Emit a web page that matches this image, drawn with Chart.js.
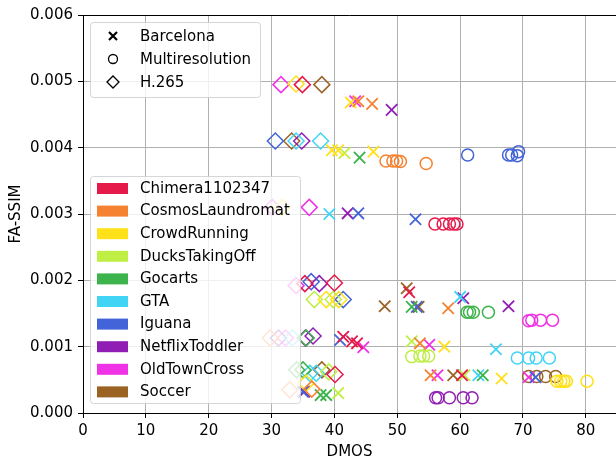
<!DOCTYPE html>
<html><head><meta charset="utf-8">
<script src="https://cdn.jsdelivr.net/npm/chart.js@4"></script>
<style>html,body{margin:0;padding:0;background:#fff}canvas{display:block}</style>
</head><body>
<canvas id="c" width="616" height="460"></canvas>
<script>
const sequences = ['Chimera1102347','CosmosLaundromat','CrowdRunning','DucksTakingOff','Gocarts','GTA','Iguana','NetflixToddler','OldTownCross','Soccer'];
const seqColors = ['#e6194b','#f58231','#ffe119','#bfef45','#3cb44b','#42d4f4','#4363d8','#911eb4','#f032e6','#9a6324'];
const codecs = ['Barcelona','Multiresolution','H.265'];
const xTicks = [0,10,20,30,40,50,60,70,80];
const yTicks = [0,0.001,0.002,0.003,0.004,0.005,0.006];
const xLabel = 'DMOS';
const yLabel = 'FA-SSIM';

// [DMOS, FA-SSIM] per sequence
const barcelona = [
  [[51.9,0.00182],[41.4,0.00115],[42.8,0.00108],[43.6,0.00105],[60.3,0.00057]],
  [[43.8,0.00470],[46.0,0.00466],[58.1,0.00158],[53.6,0.00105],[55.3,0.00057]],
  [[42.6,0.00468],[39.6,0.00396],[40.6,0.00396],[46.2,0.00394],[57.5,0.00100],[66.6,0.00052]],
  [[41.6,0.00392],[52.3,0.00108],[60.7,0.00057],[40.6,0.00030]],
  [[44.0,0.00385],[52.3,0.00160],[63.6,0.00057],[37.8,0.00027],[38.7,0.00027]],
  [[39.2,0.00300],[60.0,0.00175],[65.7,0.00096],[62.9,0.00057]],
  [[43.8,0.00301],[52.9,0.00292],[53.1,0.00160],[40.9,0.00110],[72.0,0.00054],[35.0,0.00032]],
  [[49.1,0.00457],[42.1,0.00301],[60.5,0.00173],[67.7,0.00161],[35.2,0.00032]],
  [[43.3,0.00470],[44.6,0.00099],[55.1,0.00103],[56.4,0.00057],[70.9,0.00054]],
  [[48.0,0.00161],[51.5,0.00188],[53.4,0.00160],[58.9,0.00057]]
];
const multires = [
  [[56.0,0.00285],[57.3,0.00285],[58.3,0.00285],[59.0,0.00285],[59.5,0.00285]],
  [[48.2,0.00380],[49.3,0.00380],[49.9,0.00380],[50.5,0.00379],[54.6,0.00376]],
  [[75.4,0.00048],[76.0,0.00048],[76.5,0.00048],[76.9,0.00048],[80.2,0.00048]],
  [[52.3,0.00085],[53.6,0.00086],[54.2,0.00086],[55.0,0.00086]],
  [[61.1,0.00152],[61.5,0.00152],[62.1,0.00152],[64.5,0.00152]],
  [[69.1,0.00083],[70.9,0.00083],[72.1,0.00083],[74.2,0.00083]],
  [[61.2,0.00389],[67.7,0.00389],[68.2,0.00389],[69.1,0.00388],[69.3,0.00394]],
  [[56.1,0.00023],[56.5,0.00023],[58.3,0.00023],[60.5,0.00023],[61.9,0.00023]],
  [[70.9,0.00139],[71.4,0.00140],[72.8,0.00140],[74.7,0.00140]],
  [[70.9,0.00055],[72.2,0.00055],[73.6,0.00055],[75.2,0.00055]]
];
const h265 = [
  [[34.9,0.00495],[35.3,0.00195],[40.0,0.00196],[40.1,0.00058]],
  [[29.8,0.00113],[32.9,0.00035],[36.4,0.00036]],
  [[33.9,0.00496],[31.7,0.00310],[38.7,0.00171],[40.7,0.00171],[35.5,0.00045]],
  [[36.8,0.00171],[39.8,0.00171],[39.1,0.00062]],
  [[35.5,0.00113],[35.0,0.00065],[34.0,0.00065]],
  [[33.9,0.00410],[37.8,0.00410],[33.3,0.00113],[36.1,0.00060],[37.1,0.00060]],
  [[30.6,0.00410],[36.3,0.00198],[41.4,0.00171]],
  [[34.8,0.00410],[37.6,0.00195],[31.1,0.00113],[35.4,0.00113],[36.6,0.00116]],
  [[31.5,0.00495],[36.0,0.00310],[30.1,0.00310],[33.9,0.00192],[32.2,0.00113]],
  [[38.0,0.00495],[33.2,0.00410],[38.0,0.00065]]
];

const FONT = 'DejaVu Sans';
Chart.defaults.font.family = FONT;
Chart.defaults.font.size = 15;
Chart.defaults.color = '#000';

const codecData = [barcelona, multires, h265];
const codecStyle = [
  {pointStyle:'crossRot', radius:8, borderWidth:1.8},
  {pointStyle:'circle', radius:6, borderWidth:1.5},
  {pointStyle:'rectRot', radius:8, borderWidth:1.5}
];
const datasets = [];
sequences.forEach((s, i) => {
  codecData.forEach((cd, k) => {
    datasets.push({
      label: s + ' ' + codecs[k],
      data: cd[i].map(p => ({x: p[0], y: p[1]})),
      pointStyle: codecStyle[k].pointStyle,
      pointRadius: codecStyle[k].radius,
      pointHoverRadius: codecStyle[k].radius,
      pointBorderWidth: codecStyle[k].borderWidth,
      pointBorderColor: seqColors[i],
      pointBackgroundColor: 'rgba(0,0,0,0)',
      showLine: false
    });
  });
});

const decor = {
  id: 'decor',
  afterDatasetsDraw(chart) {
    const ctx = chart.ctx;
    const a = chart.chartArea;
    ctx.save();
    ctx.strokeStyle = '#000'; ctx.lineWidth = 1;
    ctx.beginPath(); ctx.moveTo(a.left, a.top + 0.5); ctx.lineTo(a.right, a.top + 0.5); ctx.stroke();
    const box = (x, y, w, h) => {
      ctx.beginPath();
      ctx.roundRect(x, y, w, h, 3);
      ctx.fillStyle = 'rgba(255,255,255,0.8)'; ctx.fill();
      ctx.strokeStyle = 'rgba(204,204,204,0.8)'; ctx.lineWidth = 1; ctx.stroke();
    };
    box(90.5, 22.5, 170, 75);
    ctx.font = '15px "' + FONT + '"';
    ctx.textBaseline = 'middle'; ctx.textAlign = 'left';
    ctx.fillStyle = '#000'; ctx.strokeStyle = '#000';
    const rows1 = [36, 59, 82];
    ctx.lineWidth = 2.2;
    ctx.beginPath();
    ctx.moveTo(109, rows1[0]-4); ctx.lineTo(117, rows1[0]+4);
    ctx.moveTo(117, rows1[0]-4); ctx.lineTo(109, rows1[0]+4);
    ctx.stroke();
    ctx.lineWidth = 1.3;
    ctx.beginPath(); ctx.arc(113, rows1[1], 4.5, 0, Math.PI*2); ctx.stroke();
    ctx.beginPath();
    ctx.moveTo(107, rows1[2]); ctx.lineTo(113, rows1[2]-6); ctx.lineTo(119, rows1[2]); ctx.lineTo(113, rows1[2]+6); ctx.closePath(); ctx.stroke();
    codecs.forEach((c, k) => ctx.fillText(c, 140, rows1[k] + 1));
    box(90.5, 176.5, 210, 227);
    sequences.forEach((s, i) => {
      const y = 183 + 22.6 * i;
      ctx.fillStyle = seqColors[i];
      ctx.fillRect(97, y, 31, 11);
      ctx.fillStyle = '#000';
      ctx.fillText(s, 140, y + 6);
    });
    ctx.textAlign = 'center';
    ctx.fillText(xLabel, (a.left + a.right) / 2, 452);
    ctx.translate(16, (a.top + a.bottom) / 2);
    ctx.rotate(-Math.PI / 2);
    ctx.fillText(yLabel, 0, 0);
    ctx.restore();
  }
};

new Chart(document.getElementById('c'), {
  type: 'scatter',
  data: { datasets },
  options: {
    responsive: false,
    animation: false,
    devicePixelRatio: 1,
    events: [],
    layout: { autoPadding: false, padding: { top: 15, right: 0, left: 0, bottom: 0 } },
    plugins: { legend: { display: false }, tooltip: { enabled: false } },
    scales: {
      x: {
        type: 'linear', min: 0, max: 84.8,
        afterFit: s => { s.height = 47; s.paddingLeft = 0; s.paddingRight = 0; s.paddingTop = 0; s.paddingBottom = 0; },
        afterBuildTicks: s => { s.ticks = xTicks.map(v => ({value: v})); },
        ticks: { padding: 4, color: '#000', font: {size: 15}, callback: v => String(v) },
        grid: { color: '#b0b0b0', lineWidth: 1, tickColor: '#000', tickLength: 5, tickWidth: 1 },
        border: { color: '#000', width: 1 }
      },
      y: {
        type: 'linear', min: 0, max: 0.006,
        afterFit: s => { s.width = 83; s.paddingTop = 0; s.paddingBottom = 0; s.paddingLeft = 0; s.paddingRight = 0; },
        afterBuildTicks: s => { s.ticks = yTicks.map(v => ({value: v})); },
        ticks: { padding: 5, color: '#000', font: {size: 15}, callback: v => Number(v).toFixed(3) },
        grid: { color: '#b0b0b0', lineWidth: 1, tickColor: '#000', tickLength: 5, tickWidth: 1 },
        border: { color: '#000', width: 1 }
      }
    }
  },
  plugins: [decor]
});
</script>
</body></html>
